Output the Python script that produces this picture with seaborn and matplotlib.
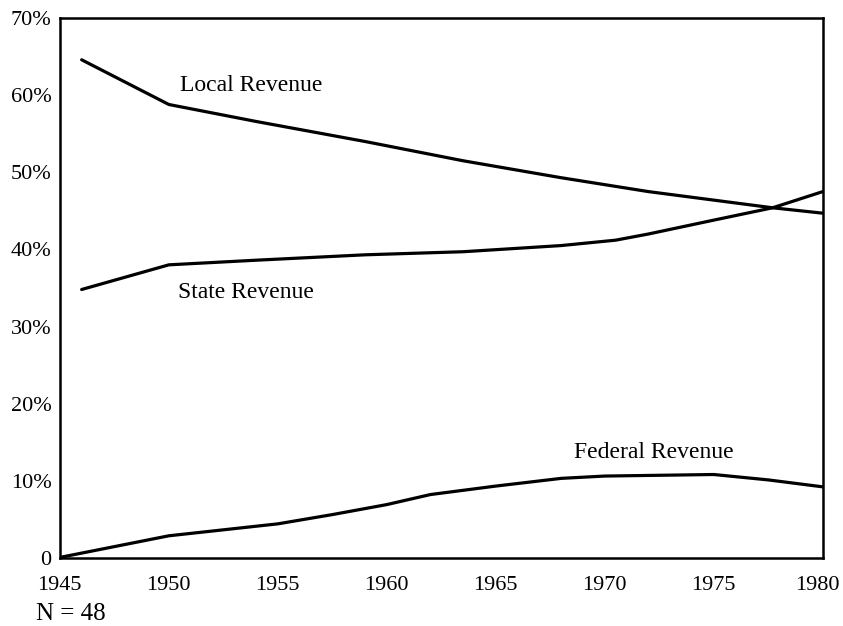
import pandas as pd
import matplotlib.pyplot as plt
import matplotlib.transforms as mtransforms
import seaborn as sns

# Share of school revenue by source (percent)
local_years = [1946, 1950, 1954, 1959, 1963.5, 1968, 1972, 1977.7, 1980]
local_revenue = [64.6, 58.8, 56.6, 54.0, 51.5, 49.3, 47.5, 45.4, 44.7]

state_years = [1946, 1950, 1954, 1959, 1963.5, 1968, 1970.5, 1972, 1975, 1977.7, 1980]
state_revenue = [34.8, 38.0, 38.6, 39.3, 39.7, 40.5, 41.2, 42.0, 43.8, 45.4, 47.5]

federal_years = [1945.1, 1950, 1955, 1957.5, 1960, 1962, 1965, 1968, 1970, 1975, 1977.5, 1980]
federal_revenue = [0.1, 2.85, 4.4, 5.6, 6.9, 8.2, 9.3, 10.3, 10.6, 10.8, 10.1, 9.2]

y_ticks = [0, 10, 20, 30, 40, 50, 60, 70]
y_tick_labels = ['0', '10%', '20%', '30%', '40%', '50%', '60%', '70%']
x_ticks = [1945, 1950, 1955, 1960, 1965, 1970, 1975, 1980]

local_df = pd.DataFrame({'Year': local_years, 'Share': local_revenue})
state_df = pd.DataFrame({'Year': state_years, 'Share': state_revenue})
federal_df = pd.DataFrame({'Year': federal_years, 'Share': federal_revenue})

sns.set_style('white')
plt.rcParams['font.family'] = ['Liberation Serif', 'DejaVu Serif']
plt.rcParams['text.color'] = 'black'

fig = plt.figure(figsize=(8.43, 6.26), dpi=100)
ax = fig.add_axes([0.071, 0.109, 0.905, 0.862])

for df in [local_df, state_df, federal_df]:
    sns.lineplot(data=df, x='Year', y='Share', color='black', linewidth=2.3, ax=ax)

ax.set_xlim(1945, 1980)
ax.set_ylim(0, 70)
ax.set_xticks(x_ticks)
ax.set_yticks(y_ticks)
ax.set_yticklabels(y_tick_labels)
ax.set_xlabel('')
ax.set_ylabel('')
ax.tick_params(direction='in', length=8, width=1.8, labelsize=16, colors='black')
ax.tick_params(axis='x', pad=13)
ax.tick_params(axis='y', pad=6)
for spine in ax.spines.values():
    spine.set_linewidth(1.8)
    spine.set_color('black')

# nudge the last year label inward so it stays on the page
last = ax.get_xticklabels()[-1]
last.set_transform(last.get_transform() + mtransforms.ScaledTranslation(-4 / 72, 0, fig.dpi_scale_trans))

ax.text(1950.5, 61.3, 'Local Revenue', fontsize=17, va='center')
ax.text(1950.4, 34.4, 'State Revenue', fontsize=17, va='center')
ax.text(1968.6, 13.7, 'Federal Revenue', fontsize=17, va='center')
fig.text(0.043, 0.019, 'N = 48', fontsize=18, va='center')

plt.savefig('out.png', dpi=100)
